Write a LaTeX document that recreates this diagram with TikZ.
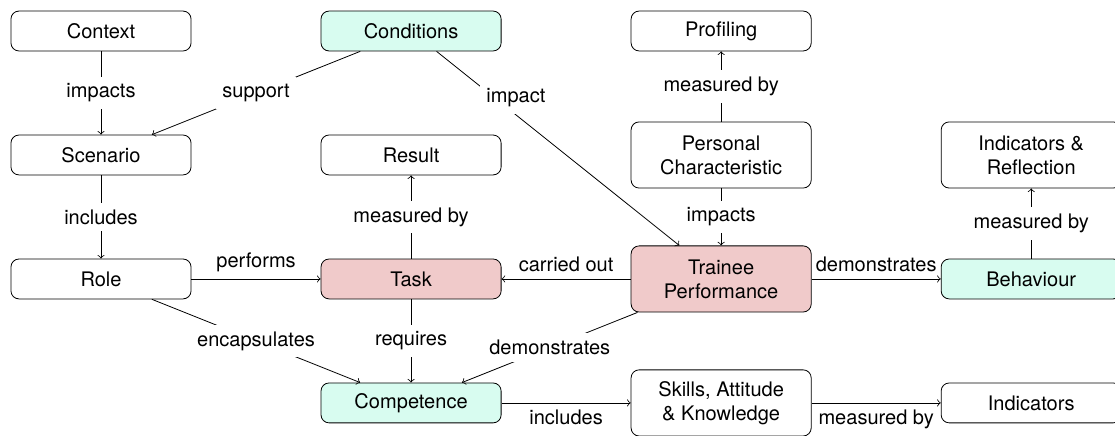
\documentclass[tikz,border=0pt]{standalone}
\usepackage{fontspec}
\setmainfont{TeX Gyre Heros}
\usepackage{tikz}
\usetikzlibrary{positioning, arrows}
\definecolor{mintfill}{RGB}{216,252,240}
\definecolor{rosefill}{RGB}{240,202,202}
\tikzset{
  ->,
  >=to,
  node distance=2.175cm and 5.44cm,
  on grid,
  box/.style={draw, rounded corners, minimum width=3.16cm, minimum height=0.7cm, align=center},
  tall/.style={minimum height=1.16cm},
  mint/.style={fill=mintfill},
  rose/.style={fill=rosefill},
  lbl/.style={fill=white},
}

\begin{document}
\begin{tikzpicture}
			      \useasboundingbox (-1.772,0.544) rectangle (17.79,-7.105);

			      % nodes
			      \node[box] (context) {Context};
			      \node[box, mint, right=of context] (conditions) {Conditions};
			      \node[box, right=of conditions] (profiling) {Profiling};
			      \node[box, below=of context] (scenario) {Scenario};
			      \node[box, right=of scenario] (result) {Result};
			      \node[box, tall, right=of result] (personal) {Personal\\Characteristic};
			      \node[box, tall, right=of personal] (reflection) {Indicators \&\\Reflection};
			      \node[box, below=of scenario] (role) {Role};
			      \node[box, rose, right=of role] (task) {Task};
			      \node[box, rose, tall, right=of task] (trainee) {Trainee\\Performance};
			      \node[box, mint, right=of trainee] (behaviour) {Behaviour};
			      \node[box, mint, below=of task] (competence) {Competence};
			      \node[box, tall, right=of competence] (skills) {Skills, Attitude\\\& Knowledge};
			      \node[box, right=of skills] (indicators) {Indicators};

			      % edges
			      \draw (context) edge node[lbl]{impacts} (scenario)
			      (conditions) edge node[lbl]{support} (scenario)
			      (conditions) edge node[lbl, pos=0.24, xshift=0.37cm]{impact} (trainee)
			      (personal) edge node[lbl]{measured by} (profiling)
			      (personal) edge node[lbl]{impacts} (trainee)
			      (scenario) edge node[lbl]{includes} (role)
			      (task) edge node[lbl]{measured by} (result)
			      (role) edge node[above]{performs} (task)
			      (trainee) edge node[above]{carried out} (task)
			      (trainee) edge node[above]{demonstrates} (behaviour)
			      (behaviour) edge node[lbl]{measured by} (reflection)
			      (role) edge node[lbl]{encapsulates} (competence)
			      (task) edge node[lbl]{requires} (competence)
			      (trainee) edge node[lbl]{demonstrates} (competence)
			      (competence) edge node[below]{includes} (skills)
			      (skills) edge node[below]{measured by} (indicators);

		      \end{tikzpicture}
\end{document}
